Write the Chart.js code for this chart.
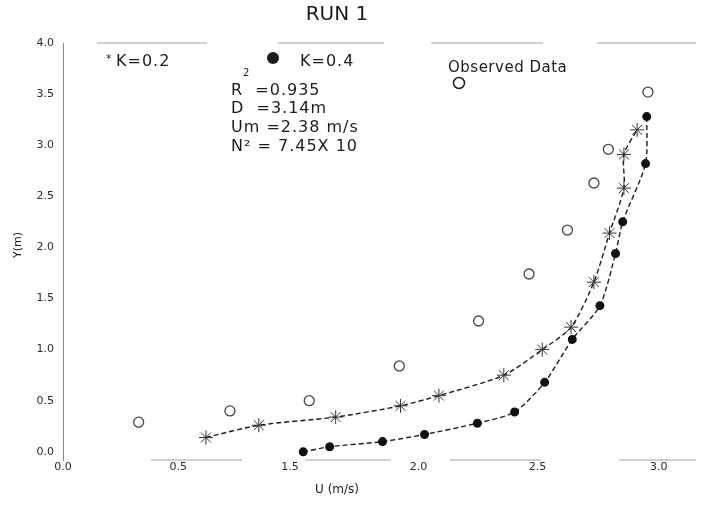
<!DOCTYPE html>
<html>
<head>
<meta charset="utf-8">
<script src="https://cdn.jsdelivr.net/npm/chart.js@4/dist/chart.umd.min.js"></script>
<style>
  html, body { margin: 0; padding: 0; background: #fff; }
  canvas { display: block; }
</style>
</head>
<body>
<canvas id="grafico" width="704" height="505"></canvas>
<script>
// the printed x axis is uneven (0.0, 0.5, 1.5, ...), so points are kept in axis position units
const xTickLabels = ['0.0', '0.5', '1.5', '2.0', '2.5', '3.0'];
const xTickValues = [0, 0.96, 1.89, 2.96, 3.95, 4.96];
const yTickValues = [0, 0.5, 1, 1.5, 2, 2.5, 3, 3.5, 4];

// K = 0.2 (stars)
const k02X = [1.19, 1.63, 2.27, 2.81, 3.13, 3.67, 3.99, 4.23, 4.42, 4.55, 4.67, 4.67, 4.78];
const k02Y = [0.14, 0.26, 0.34, 0.45, 0.55, 0.75, 1.00, 1.22, 1.66, 2.14, 2.58, 2.91, 3.15];

// K = 0.4 (filled dots)
const k04X = [2.00, 2.22, 2.66, 3.01, 3.45, 3.76, 4.01, 4.24, 4.47, 4.60, 4.66, 4.85, 4.86];
const k04Y = [0.00, 0.05, 0.10, 0.17, 0.28, 0.39, 0.68, 1.10, 1.43, 1.94, 2.25, 2.82, 3.28];

// observed data (open circles)
const obsX = [0.63, 1.39, 2.05, 2.80, 3.46, 3.88, 4.20, 4.42, 4.54, 4.87];
const obsY = [0.29, 0.40, 0.50, 0.84, 1.28, 1.74, 2.17, 2.63, 2.96, 3.52];

const pontos = (xs, ys) => xs.map((x, i) => ({ x: x, y: ys[i] }));

const INK = '#1c1c1c';
const FONTE = '"DejaVu Sans", sans-serif';

// textos soltos do grafico (titulo, legenda, parametros) e linhas quebradas das bordas
const textos = {
  id: 'textos',
  afterDraw(chart) {
    const ctx = chart.ctx;
    const area = chart.chartArea;
    ctx.save();
    ctx.fillStyle = INK;
    ctx.strokeStyle = INK;
    ctx.textBaseline = 'middle';

    // titulo
    ctx.font = '20px ' + FONTE;
    ctx.textAlign = 'center';
    ctx.fillText('RUN 1', 337, 15);

    // eixo x titulo
    ctx.font = '12px ' + FONTE;
    ctx.fillText('U (m/s)', 337, 490);

    // eixo y titulo
    ctx.save();
    ctx.translate(18, 245);
    ctx.rotate(-Math.PI / 2);
    ctx.font = '11px ' + FONTE;
    ctx.fillText('Y(m)', 0, 0);
    ctx.restore();

    // linhas tracejadas do topo e da base
    ctx.save();
    ctx.strokeStyle = '#a0a0a0';
    ctx.lineWidth = 1;
    ctx.setLineDash([110, 71, 106, 47, 112, 54, 200]);
    ctx.beginPath();
    ctx.moveTo(97, area.top);
    ctx.lineTo(area.right, area.top);
    ctx.stroke();
    ctx.setLineDash([91, 63, 86, 59, 91, 78, 200]);
    ctx.beginPath();
    ctx.moveTo(151, area.bottom);
    ctx.lineTo(area.right, area.bottom);
    ctx.stroke();
    ctx.restore();

    ctx.textAlign = 'left';
    ctx.font = '11px ' + FONTE;
    ctx.fillText('*', 106, 59);
    ctx.font = '16px ' + FONTE;
    ctx.letterSpacing = '1px';
    ctx.fillText('K=0.2', 116, 62);

    ctx.beginPath();
    ctx.arc(273, 58, 6, 0, Math.PI * 2);
    ctx.fill();
    ctx.fillText('K=0.4', 300, 62);

    ctx.font = '15px ' + FONTE;
    ctx.letterSpacing = '0.5px';
    ctx.fillText('Observed Data', 448, 68);
    ctx.beginPath();
    ctx.lineWidth = 1.5;
    ctx.arc(459, 83, 5.5, 0, Math.PI * 2);
    ctx.stroke();

    ctx.font = '10px ' + FONTE;
    ctx.letterSpacing = '0px';
    ctx.fillText('2', 243, 73);
    ctx.font = '16px ' + FONTE;
    ctx.letterSpacing = '1px';
    ctx.fillText('R  =0.935', 231, 91);
    ctx.fillText('D  =3.14m', 231, 109);
    ctx.fillText('Um =2.38 m/s', 231, 128);
    ctx.fillText('N\u00B2 = 7.45X 10', 231, 147);
    ctx.restore();
  }
};

const grafico = new Chart(document.getElementById('grafico'), {
  type: 'scatter',
  data: {
    datasets: [
      {
        label: 'K=0.2',
        data: pontos(k02X, k02Y),
        showLine: true,
        tension: 0.25,
        borderColor: INK,
        borderWidth: 1.4,
        borderDash: [5, 3],
        pointStyle: 'star',
        pointRadius: 7,
        pointBorderColor: '#333',
        pointBorderWidth: 1,
        pointBackgroundColor: 'transparent'
      },
      {
        label: 'K=0.4',
        data: pontos(k04X, k04Y),
        showLine: true,
        tension: 0.25,
        borderColor: INK,
        borderWidth: 1.4,
        borderDash: [5, 3],
        pointStyle: 'circle',
        pointRadius: 3.8,
        pointBorderColor: '#111',
        pointBackgroundColor: '#111'
      },
      {
        label: 'Observed Data',
        data: pontos(obsX, obsY),
        showLine: false,
        pointStyle: 'circle',
        pointRadius: 5,
        pointBorderWidth: 1.3,
        pointBorderColor: '#444',
        pointBackgroundColor: 'transparent'
      }
    ]
  },
  options: {
    responsive: false,
    animation: false,
    layout: { padding: { top: 43, right: 4, left: 0, bottom: 0 } },
    plugins: {
      legend: { display: false },
      tooltip: { enabled: false },
      title: { display: false }
    },
    scales: {
      x: {
        type: 'linear',
        min: 0,
        max: 5.27,
        afterBuildTicks: (scale) => {
          scale.ticks = xTickValues.map((v) => ({ value: v }));
        },
        afterFit: (scale) => { scale.height = 45; },
        grid: { display: false, drawTicks: false },
        border: { display: false },
        ticks: {
          padding: 1,
          color: '#2a2a2a',
          font: { family: 'DejaVu Sans', size: 11 },
          maxRotation: 0,
          autoSkip: false,
          callback: (v) => xTickLabels[xTickValues.indexOf(v)] ?? ''
        }
      },
      y: {
        type: 'linear',
        min: -0.08,
        max: 4,
        afterBuildTicks: (scale) => {
          scale.ticks = yTickValues.map((v) => ({ value: v }));
        },
        afterFit: (scale) => { scale.width = 63; },
        grid: { display: false, drawTicks: false },
        border: { display: true, color: '#8a8a8a', width: 1 },
        ticks: {
          padding: 9,
          color: '#2a2a2a',
          font: { family: 'DejaVu Sans', size: 11 },
          callback: (v) => v.toFixed(1)
        }
      }
    }
  },
  plugins: [textos]
});
</script>
</body>
</html>
